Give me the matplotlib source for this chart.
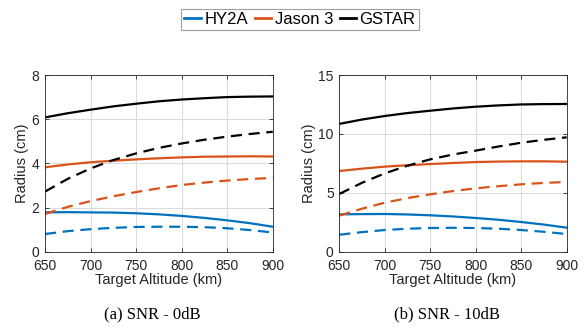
import numpy as np
import matplotlib.pyplot as plt
from matplotlib.lines import Line2D

# Altitudes cibles (km)
altitude = [650, 675, 700, 725, 750, 775, 800, 825, 850, 875, 900]

# SNR 0 dB : rayon (cm), trait plein / pointillé
hy2a_0 = [1.78, 1.79, 1.78, 1.77, 1.74, 1.69, 1.62, 1.53, 1.42, 1.29, 1.13]
hy2a_0_d = [0.80, 0.93, 1.02, 1.08, 1.12, 1.13, 1.13, 1.11, 1.06, 0.98, 0.87]
jason_0 = [3.82, 3.95, 4.05, 4.12, 4.18, 4.23, 4.27, 4.30, 4.31, 4.32, 4.31]
jason_0_d = [1.71, 2.03, 2.29, 2.51, 2.70, 2.87, 3.02, 3.13, 3.22, 3.29, 3.34]
gstar_0 = [6.08, 6.27, 6.43, 6.58, 6.70, 6.81, 6.89, 6.95, 7.00, 7.02, 7.03]
gstar_0_d = [2.72, 3.30, 3.77, 4.15, 4.45, 4.70, 4.90, 5.07, 5.21, 5.33, 5.43]

# SNR 10 dB
hy2a_10 = [3.17, 3.19, 3.20, 3.16, 3.09, 2.99, 2.86, 2.71, 2.52, 2.30, 2.04]
hy2a_10_d = [1.44, 1.66, 1.84, 1.95, 2.01, 2.03, 2.01, 1.95, 1.84, 1.69, 1.50]
jason_10 = [6.85, 7.05, 7.22, 7.34, 7.44, 7.53, 7.61, 7.65, 7.67, 7.67, 7.64]
jason_10_d = [3.06, 3.65, 4.16, 4.55, 4.87, 5.15, 5.38, 5.56, 5.72, 5.84, 5.92]
gstar_10 = [10.85, 11.22, 11.52, 11.77, 11.97, 12.16, 12.31, 12.42, 12.50, 12.53, 12.54]
gstar_10_d = [4.90, 5.85, 6.65, 7.30, 7.84, 8.25, 8.58, 8.93, 9.25, 9.50, 9.71]

noms = ["HY2A", "Jason 3", "GSTAR"]
couleurs = ["#0072BD", "#D95319", "black"]

plt.rcParams['font.family'] = ['Liberation Sans', 'DejaVu Sans']

fig = plt.figure(figsize=(5.87, 3.29), dpi=100)
ax1 = fig.add_axes([0.0767, 0.235, 0.388, 0.537])
ax2 = fig.add_axes([0.578, 0.235, 0.3874, 0.537])

donnees = [
    (ax1, [hy2a_0, jason_0, gstar_0], [hy2a_0_d, jason_0_d, gstar_0_d], 8, [0, 2, 4, 6, 8]),
    (ax2, [hy2a_10, jason_10, gstar_10], [hy2a_10_d, jason_10_d, gstar_10_d], 15, [0, 5, 10, 15]),
]

for ax, pleins, tirets, ymax, yticks in donnees:
    for y, c in zip(pleins, couleurs):
        ax.plot(altitude, y, color=c, lw=1.6)
    for y, c in zip(tirets, couleurs):
        ax.plot(altitude, y, color=c, lw=1.6, dashes=(5, 3))
    ax.set_xlim(650, 900)
    ax.set_ylim(0, ymax)
    ax.set_xticks([650, 700, 750, 800, 850, 900])
    ax.set_yticks(yticks)
    ax.grid(True, color='#dcdcdc', lw=0.8)
    ax.set_axisbelow(True)
    ax.tick_params(direction='in', top=True, right=True, labelsize=10,
                   colors='#262626', length=3, width=0.6)
    ax.tick_params(axis='x', pad=5)
    ax.tick_params(axis='y', pad=4)
    for s in ax.spines.values():
        s.set_color('#262626')
        s.set_linewidth(0.6)
    ax.set_xlabel("Target Altitude (km)", fontsize=10.5, color='#262626', labelpad=0)
    ax.set_ylabel("Radius (cm)", fontsize=10.5, color='#262626', labelpad=2)

poignees = [Line2D([0], [0], color=c, lw=2) for c in couleurs]
leg = fig.legend(poignees, noms, loc='center', bbox_to_anchor=(0.511, 0.941), ncol=3,
                 fontsize=12, handlelength=1.0, handletextpad=0.2, columnspacing=0.4,
                 borderpad=0.2, fancybox=False, framealpha=1)
leg.get_frame().set_edgecolor('#a0a0a0')
leg.get_frame().set_linewidth(0.8)

fig.text(0.26, 0.044, "(a) SNR - 0dB", ha='center', va='center',
         family='Liberation Serif', fontsize=12)
fig.text(0.761, 0.044, "(b) SNR - 10dB", ha='center', va='center',
         family='Liberation Serif', fontsize=12)

plt.savefig("out.png", dpi=100)
